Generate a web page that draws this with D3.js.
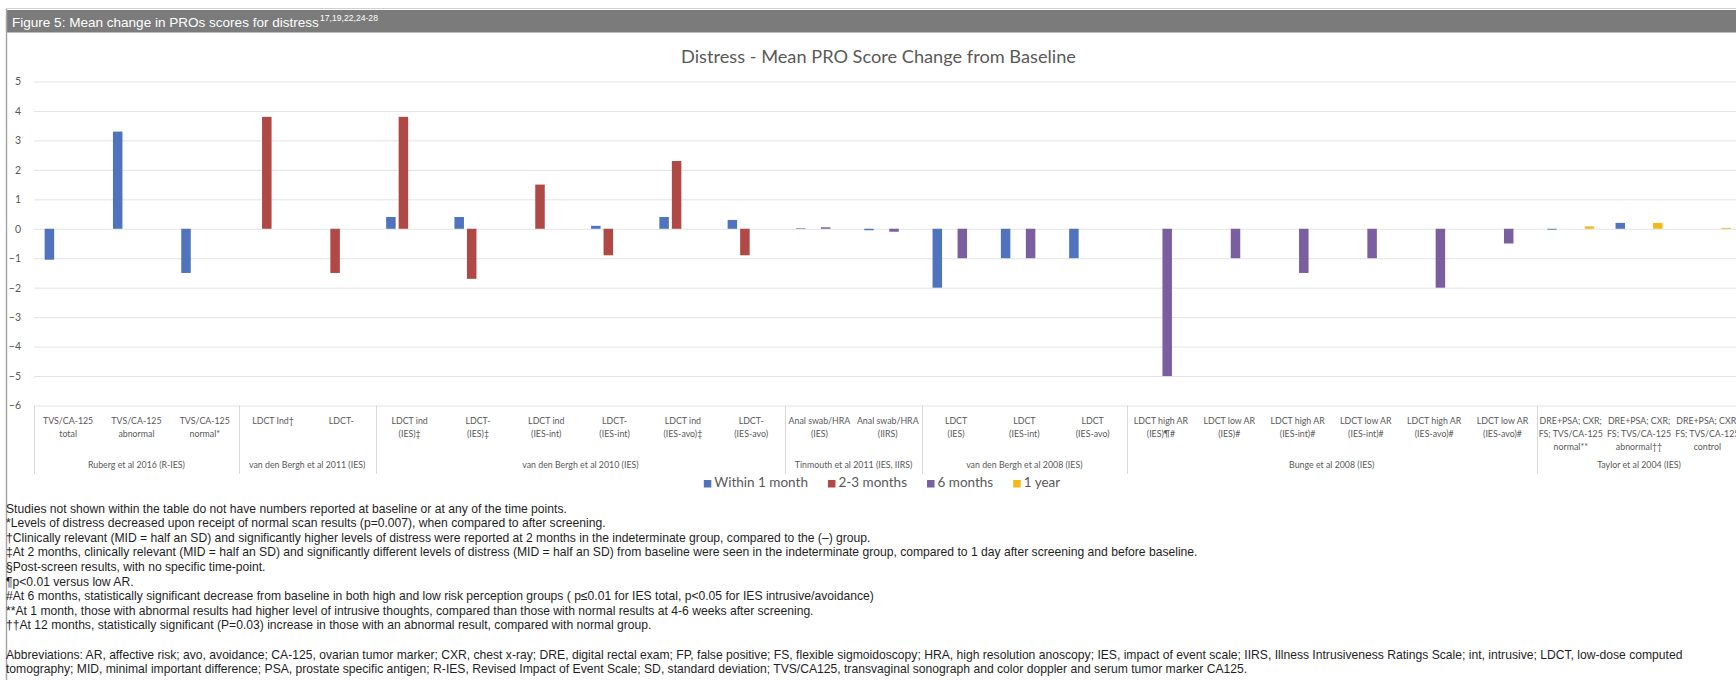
<!DOCTYPE html>
<html>
<head>
<meta charset="utf-8">
<script src="https://cdn.jsdelivr.net/npm/d3@7"></script>
<style>
  html, body { margin: 0; padding: 0; background: #ffffff; overflow: hidden; }
  svg { display: block; }
</style>
</head>
<body>
<svg id="fig" width="1736" height="680"></svg>
<script>
// ---- data ----
const categoryLines = [
  ["TVS/CA-125", "total"], ["TVS/CA-125", "abnormal"], ["TVS/CA-125", "normal*"],
  ["LDCT Ind†"], ["LDCT-"],
  ["LDCT ind", "(IES)‡"], ["LDCT-", "(IES)‡"], ["LDCT ind", "(IES-int)"], ["LDCT-", "(IES-int)"],
  ["LDCT ind", "(IES-avo)‡"], ["LDCT-", "(IES-avo)"],
  ["Anal swab/HRA", "(IES)"], ["Anal swab/HRA", "(IIRS)"],
  ["LDCT", "(IES)"], ["LDCT", "(IES-int)"], ["LDCT", "(IES-avo)"],
  ["LDCT high AR", "(IES)¶#"], ["LDCT low AR", "(IES)#"], ["LDCT high AR", "(IES-int)#"],
  ["LDCT low AR", "(IES-int)#"], ["LDCT high AR", "(IES-avo)#"], ["LDCT low AR", "(IES-avo)#"],
  ["DRE+PSA; CXR;", "FS; TVS/CA-125", "normal**"], ["DRE+PSA; CXR;", "FS; TVS/CA-125", "abnormal††"],
  ["DRE+PSA; CXR;", "FS; TVS/CA-125", "control"]
];
const groupNames = [
  "Ruberg et al 2016 (R-IES)", "van den Bergh et al 2011 (IES)", "van den Bergh et al 2010 (IES)",
  "Tinmouth et al 2011 (IES, IIRS)", "van den Bergh et al 2008 (IES)", "Bunge et al 2008 (IES)",
  "Taylor et al 2004 (IES)"
];
const groupSizes = [3, 2, 6, 2, 3, 6, 3];

const seriesNames = ["Within 1 month", "2-3 months", "6 months", "1 year"];
const within1Month = [-1.05, 3.3, -1.5, null, null, 0.4, 0.4, null, 0.1, 0.4, 0.3, 0.02, -0.05,
  -2, -1, -1, null, null, null, null, null, null, -0.03, 0.2, null];
const months2to3 = [null, null, null, 3.8, -1.5, 3.8, -1.7, 1.5, -0.9, 2.3, -0.9, null, null,
  null, null, null, null, null, null, null, null, null, null, null, null];
const months6 = [null, null, null, null, null, null, null, null, null, null, null, 0.05, -0.1,
  -1, -1, null, -5, -1, -1.5, -1, -2, -0.5, null, null, null];
const year1 = [null, null, null, null, null, null, null, null, null, null, null, null, null,
  null, null, null, null, null, null, null, null, null, 0.08, 0.2, 0.03];
const yTicks = [5, 4, 3, 2, 1, 0, -1, -2, -3, -4, -5, -6];

const chartTitle = "Distress - Mean PRO Score Change from Baseline";
const figureCaption = "Figure 5: Mean change in PROs scores for distress";
const figureRefs = "17,19,22,24-28";
const footnotes = [
  "Studies not shown within the table do not have numbers reported at baseline or at any of the time points.",
  "*Levels of distress decreased upon receipt of normal scan results (p=0.007), when compared to after screening.",
  "†Clinically relevant (MID = half an SD) and significantly higher levels of distress were reported at 2 months in the indeterminate group, compared to the (–) group.",
  "‡At 2 months, clinically relevant (MID = half an SD) and significantly different levels of distress (MID = half an SD) from baseline were seen in the indeterminate group, compared to 1 day after screening and before baseline.",
  "§Post-screen results, with no specific time-point.",
  "¶p<0.01 versus low AR.",
  "#At 6 months, statistically significant decrease from baseline in both high and low risk perception groups ( p≤0.01 for IES total, p<0.05 for IES intrusive/avoidance)",
  "**At 1 month, those with abnormal results had higher level of intrusive thoughts, compared than those with normal results at 4-6 weeks after screening.",
  "††At 12 months,  statistically significant (P=0.03) increase in those with an abnormal result, compared with normal group."
];
const abbreviations = [
  "Abbreviations: AR, affective risk; avo, avoidance;  CA-125, ovarian tumor marker; CXR, chest x-ray; DRE,  digital rectal exam; FP, false positive; FS, flexible sigmoidoscopy; HRA, high resolution anoscopy; IES, impact of event scale; IIRS, Illness Intrusiveness Ratings Scale; int, intrusive; LDCT,  low-dose computed",
  "tomography; MID, minimal important difference; PSA, prostate specific antigen; R-IES, Revised Impact of Event Scale; SD, standard deviation; TVS/CA125, transvaginal sonograph and color doppler and serum tumor marker CA125."
];

// ---- styling ----
const colors = ["#4f74bd", "#b04846", "#7a5ea0", "#f3b81c"];
const chartFont = "Lato, 'Open Sans', sans-serif";
const noteFont = "'Liberation Sans', Arial, sans-serif";
const textGray = "#595959";
const gridGray = "#e3e3e3";
const labelSqueeze = 0.9;   // narrower axis lettering

const svg = d3.select("#fig");
const W = 1736, H = 680;

// scale a text's font size so it spans the given width
function fitFont(sel, target) {
  const fs = parseFloat(sel.attr("font-size"));
  sel.attr("font-size", (fs * target / sel.node().getComputedTextLength()).toFixed(2));
}

// ---- figure frame and caption bar ----
svg.append("line").attr("x1", 6).attr("x2", W).attr("y1", 8.5).attr("y2", 8.5)
  .attr("stroke", "#d0d0d0").attr("stroke-width", 1);
svg.append("rect").attr("x", 6).attr("y", 10).attr("width", W - 6).attr("height", 22.5)
  .attr("fill", "#7b7b7b");
svg.append("line").attr("x1", 6.5).attr("x2", 6.5).attr("y1", 9).attr("y2", H)
  .attr("stroke", "#a8a8a8").attr("stroke-width", 1.5);
const capMain = svg.append("text").attr("x", 12).attr("y", 26.5)
  .attr("font-family", "'Liberation Sans', Arial, sans-serif").attr("font-size", 14)
  .attr("fill", "#ffffff").text(figureCaption);
fitFont(capMain, 307);
const capRefs = svg.append("text").attr("x", 320).attr("y", 21)
  .attr("font-family", "'Liberation Sans', Arial, sans-serif").attr("font-size", 9)
  .attr("fill", "#ffffff").text(figureRefs);
fitFont(capRefs, 58);

// ---- scales ----
const nCat = categoryLines.length;
const step = 68.3;
const plotLeft = 34;
const x0 = d3.scaleBand().domain(d3.range(nCat)).range([plotLeft, plotLeft + nCat * step]).padding(0);
const half = x0.bandwidth() / 2;
const x1 = d3.scaleBand().domain(d3.range(seriesNames.length))
  .range([half - 23.5, half + 23.5]).paddingInner(0.24);
const y = d3.scaleLinear().domain([-6, 5]).range([405.5, 81.5]);

// ---- gridlines ----
const grid = svg.append("g").attr("transform", `translate(${plotLeft},0)`)
  .call(d3.axisLeft(y).tickValues(yTicks).tickSize(-(nCat * step)).tickFormat(""));
grid.select(".domain").remove();
grid.selectAll(".tick line").attr("stroke", gridGray).attr("stroke-width", 1);

// ---- y tick labels ----
const yAxis = svg.append("g").attr("transform", "translate(21,0)")
  .call(d3.axisLeft(y).tickValues(yTicks).tickSize(0).tickPadding(0).tickFormat(d3.format("d")));
yAxis.select(".domain").remove();
yAxis.selectAll("text").attr("font-family", chartFont).attr("font-size", 10.5).attr("fill", textGray);

// ---- bars ----
const seriesValues = [within1Month, months2to3, months6, year1];
seriesValues.forEach((vals, s) => {
  svg.append("g").attr("fill", colors[s])
    .selectAll("rect")
    .data(vals.map((v, i) => ({ v, i })).filter(d => d.v !== null))
    .join("rect")
    .attr("x", d => x0(d.i) + x1(s))
    .attr("width", x1.bandwidth())
    .attr("y", d => y(Math.max(0, d.v)))
    .attr("height", d => Math.abs(y(d.v) - y(0)));
});

// ---- category axis (two levels) ----
const catRowY = [424.5, 437.5, 450.5];
const catG = svg.append("g").attr("font-family", chartFont).attr("font-size", 9.8)
  .attr("fill", textGray).attr("text-anchor", "middle");
categoryLines.forEach((lines, i) => {
  const t = catG.append("text")
    .attr("transform", `translate(${x0(i) + half},0) scale(${labelSqueeze},1)`);
  lines.forEach((ln, k) => t.append("tspan").attr("x", 0).attr("y", catRowY[k]).text(ln));
});

let start = 0;
const grpG = svg.append("g");
const bounds = [0];
groupSizes.forEach((n, g) => {
  const xa = x0(start), xb = x0(start) + n * step;
  grpG.append("text")
    .attr("transform", `translate(${(xa + xb) / 2},468) scale(${labelSqueeze},1)`)
    .attr("font-family", chartFont).attr("font-size", 9.8).attr("fill", textGray)
    .attr("text-anchor", "middle").text(groupNames[g]);
  start += n;
  bounds.push(start);
});
bounds.forEach(b => {
  const xx = Math.round(plotLeft + b * step) + 0.5;
  grpG.append("line").attr("x1", xx).attr("x2", xx).attr("y1", 405.5).attr("y2", 474)
    .attr("stroke", "#d9d9d9").attr("stroke-width", 1);
});

// ---- title ----
const title = svg.append("text").attr("x", 878.5).attr("y", 63)
  .attr("font-family", chartFont).attr("font-size", 16).attr("fill", textGray)
  .attr("text-anchor", "middle").text(chartTitle);
fitFont(title, 395);

// ---- legend ----
const legend = svg.append("g");
let lx = 0;
seriesNames.forEach((name, s) => {
  const g = legend.append("g").attr("transform", `translate(${lx},0)`);
  g.append("rect").attr("x", 0).attr("y", -7).attr("width", 7.5).attr("height", 7.5).attr("fill", colors[s]);
  const t = g.append("text").attr("x", 10.5).attr("y", 0).attr("font-family", chartFont)
    .attr("font-size", 13.5).attr("fill", textGray).text(name);
  lx += 10.5 + t.node().getComputedTextLength() + 20;
});
const legendW = lx - 20;
legend.attr("transform", `translate(${882 - legendW / 2},487)`);

// ---- footnotes (condensed sans) ----
const notes = svg.append("g").attr("font-family", noteFont).attr("font-size", 12.6).attr("fill", "#1e1e1e");
const noteStartY = 512.5, noteStep = 14.6;
const noteEls = footnotes.map((txt, k) =>
  notes.append("text").attr("x", 0).attr("y", 0)
    .attr("data-y", noteStartY + k * noteStep).text(txt));
const abbrEls = abbreviations.map((txt, k) =>
  notes.append("text").attr("x", 0).attr("y", 0)
    .attr("data-y", noteStartY + (footnotes.length + 1) * noteStep + k * noteStep).text(txt));
// horizontal squeeze chosen so the longest footnote spans 1192px
const noteSqueeze = 1192 / noteEls[3].node().getComputedTextLength();
noteEls.concat(abbrEls).forEach(e =>
  e.attr("transform", `translate(6,${e.attr("data-y")}) scale(${noteSqueeze.toFixed(4)},1)`));
</script>
</body>
</html>
